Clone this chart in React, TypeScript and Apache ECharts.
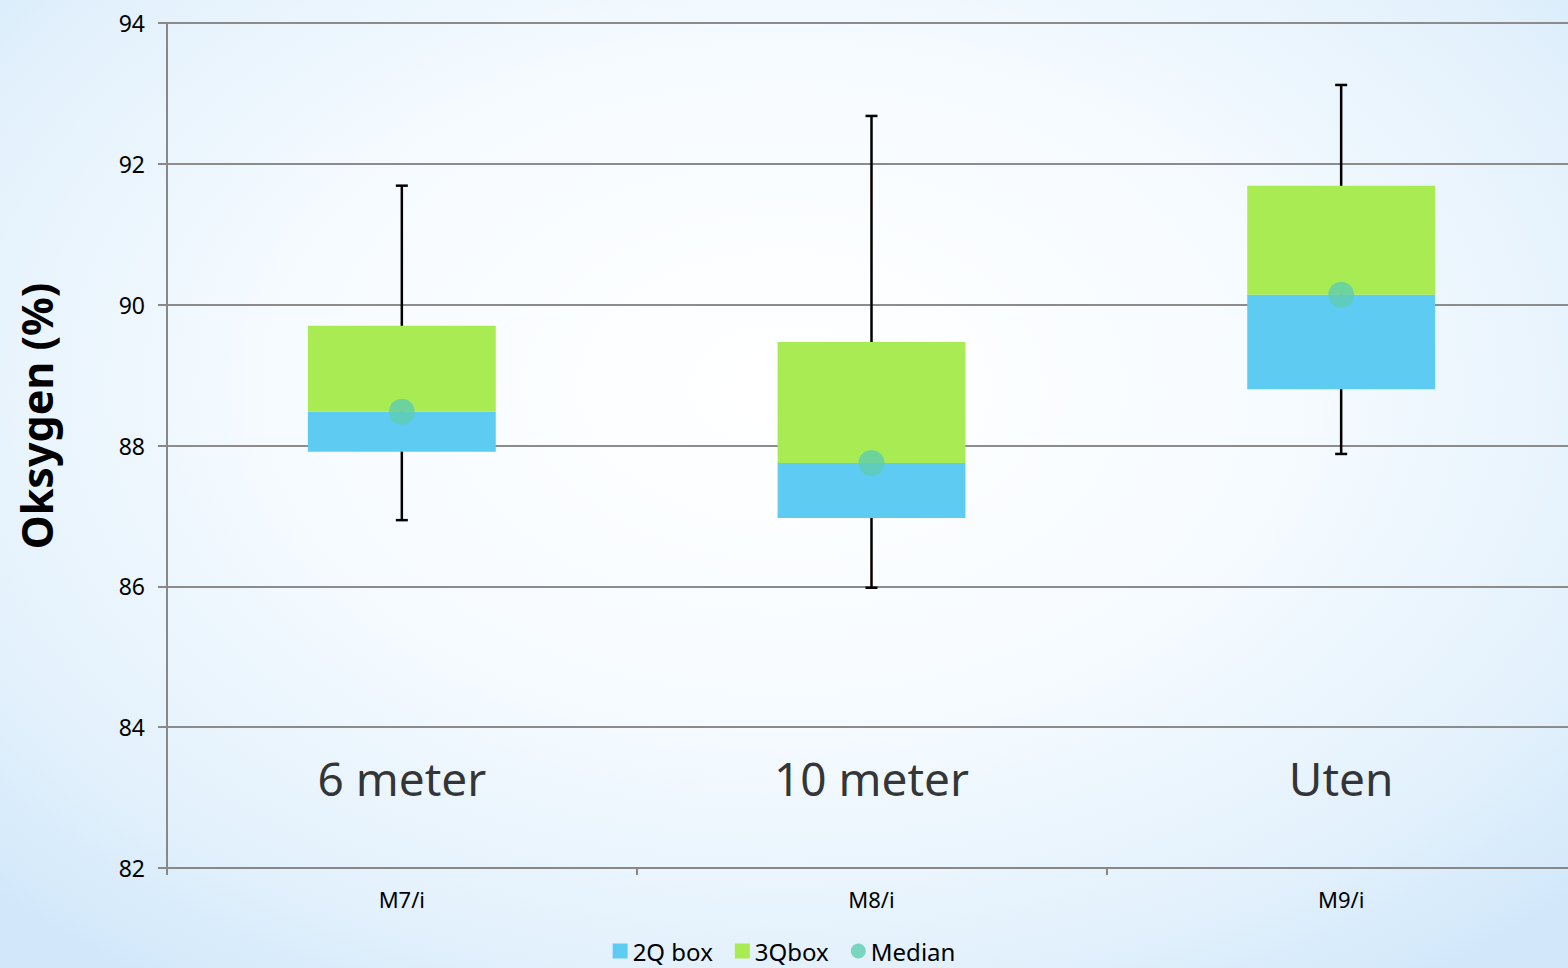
import React, { useEffect, useRef } from "react";
import * as echarts from "echarts";

const categories = ["M7/i", "M8/i", "M9/i"];
const groupNames = ["6 meter", "10 meter", "Uten"];
const q1 = [87.91, 86.97, 88.8];
const median = [88.48, 87.75, 90.14];
const q3 = [89.7, 89.47, 91.69];
const whiskerLow = [86.94, 85.98, 87.88];
const whiskerHigh = [91.69, 92.68, 93.12];
const yTicks = { min: 82, max: 94, interval: 2 };
const yAxisTitle = "Oksygen (%)";

export default function App() {
  const ref = useRef<HTMLDivElement>(null);
  useEffect(() => {
    document.body.style.margin = "0";
    const chart = echarts.init(ref.current!, null, { renderer: "svg" });
    const font = "Noto Sans";
    const option: any = {
      animation: false,
      textStyle: { fontFamily: font },
      grid: { left: 167, right: -8, top: 23, bottom: 100, outerBoundsMode: "none", containLabel: false },
      graphic: [
        {
          type: "text",
          x: 36,
          y: 416,
          rotation: Math.PI / 2,
          style: {
            text: yAxisTitle,
            fontSize: 43,
            fontWeight: "bold",
            fontFamily: font,
            fill: "#000",
            align: "center",
            verticalAlign: "middle",
          },
        },
      ],
      legend: {
        bottom: 0,
        left: "center",
        data: [
          { name: "2Q box", icon: "rect" },
          { name: "3Qbox", icon: "rect" },
          { name: "Median", icon: "circle" },
        ],
        itemWidth: 15,
        itemHeight: 15,
        itemGap: 22,
        textStyle: { fontSize: 24, color: "#000", fontFamily: font },
      },
      xAxis: {
        type: "category",
        data: categories,
        axisLine: { lineStyle: { color: "#888", width: 2 } },
        axisTick: { show: true, alignWithLabel: false, length: 7, lineStyle: { color: "#888", width: 2 } },
        axisLabel: { color: "#000", fontSize: 22, margin: 20 },
      },
      yAxis: {
        type: "value",
        min: yTicks.min,
        max: yTicks.max,
        interval: yTicks.interval,
        axisLine: { show: true, lineStyle: { color: "#888", width: 2 } },
        axisTick: { show: true, inside: false, length: 9, lineStyle: { color: "#888", width: 2 } },
        axisLabel: { color: "#000", fontSize: 23, margin: 22 },
        splitLine: { lineStyle: { color: "#8c8c8c", width: 2 } },
      },
      series: [
        {
          name: "whisker",
          type: "custom",
          z: 1,
          data: categories.map((_, i) => [i, whiskerLow[i], whiskerHigh[i]]),
          renderItem: (params: any, api: any) => {
            const x = api.value(0);
            const lo = api.coord([x, api.value(1)]);
            const hi = api.coord([x, api.value(2)]);
            const cap = 6;
            const style = { stroke: "#000", lineWidth: 2.5 };
            return {
              type: "group",
              children: [
                { type: "line", shape: { x1: lo[0], y1: lo[1], x2: hi[0], y2: hi[1] }, style },
                { type: "line", shape: { x1: lo[0] - cap, y1: lo[1], x2: lo[0] + cap, y2: lo[1] }, style },
                { type: "line", shape: { x1: hi[0] - cap, y1: hi[1], x2: hi[0] + cap, y2: hi[1] }, style },
              ],
            };
          },
        },
        {
          name: "base",
          type: "bar",
          stack: "box",
          barWidth: "40%",
          z: 2,
          itemStyle: { color: "transparent" },
          data: q1,
        },
        {
          name: "2Q box",
          type: "bar",
          stack: "box",
          z: 2,
          itemStyle: { color: "#5ecbf2" },
          data: median.map((m, i) => +(m - q1[i]).toFixed(3)),
        },
        {
          name: "3Qbox",
          type: "bar",
          stack: "box",
          z: 2,
          itemStyle: { color: "#a9eb52" },
          data: q3.map((q, i) => +(q - median[i]).toFixed(3)),
        },
        {
          name: "Median",
          type: "scatter",
          z: 3,
          symbolSize: 26,
          itemStyle: { color: "#5ecdb0" },
          data: median.map((m, i) => [i, m]),
        },
        {
          name: "labels",
          type: "scatter",
          z: 3,
          symbolSize: 1,
          itemStyle: { color: "transparent" },
          silent: true,
          label: {
            show: true,
            position: "inside",
            fontSize: 46,
            color: "#000",
            fontFamily: font,
            formatter: (p: any) => groupNames[p.dataIndex],
          },
          data: categories.map((_, i) => [i, 83.28]),
        },
      ],
    };
    chart.setOption(option);
    return () => chart.dispose();
  }, []);
  return (
    <div
      ref={ref}
      style={{
        width: 1568,
        height: 968,
        background:
          "radial-gradient(ellipse 70% 75% at 50% 40%, #ffffff 0%, #f6fbff 45%, #e3f1fc 80%, #d2e8fa 100%)",
      }}
    />
  );
}
